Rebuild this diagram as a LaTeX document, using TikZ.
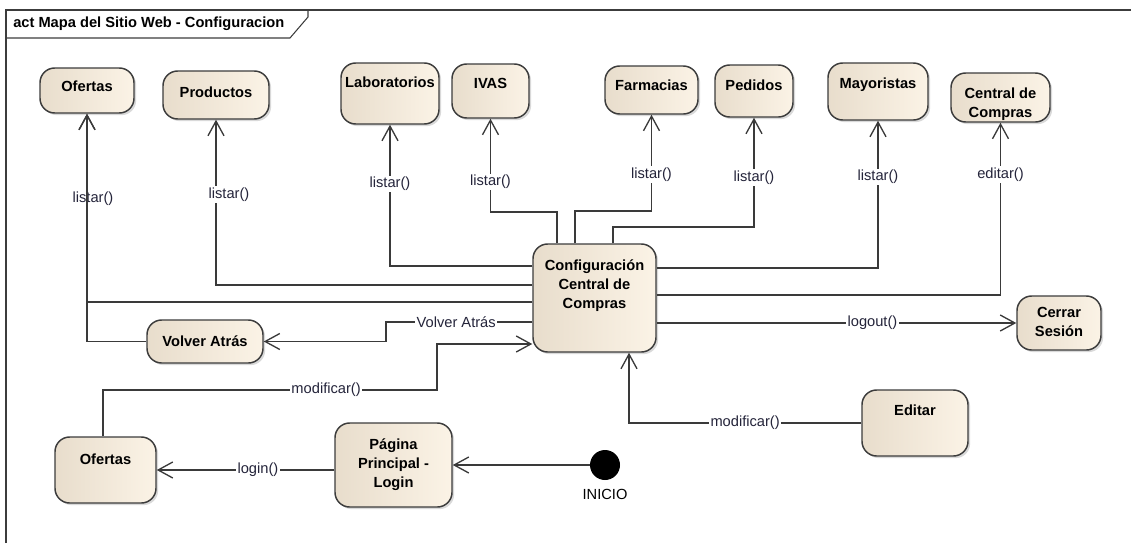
\documentclass[tikz,border=0pt]{standalone}
\usepackage{fontspec}
\setmainfont{Liberation Sans}
\usetikzlibrary{arrows.meta,positioning,shadows}
\definecolor{mapaedge}{HTML}{3C3C3C}
\definecolor{mapafillL}{HTML}{E8DDCC}
\definecolor{mapafillR}{HTML}{FBF3E6}
\definecolor{mapaline}{HTML}{3A3A3A}
\definecolor{mapatext}{HTML}{24243A}
\tikzset{
  act/.style={rounded corners=11pt, draw=mapaedge, line width=1.1pt,
    left color=mapafillL, right color=mapafillR, inner sep=3pt,
    font=\fontsize{11}{14.25}\selectfont\bfseries,
    drop shadow={shadow xshift=1.6pt, shadow yshift=-1.6pt, opacity=0.3}},
  lift/.style={text height=8pt, text depth=#1},
  flow/.style={-{Straight Barb[length=11pt, width=12pt]}, line width=1pt, draw=mapaline},
  msg/.style={font=\fontsize{11}{13}\selectfont, text=mapatext, fill=white, inner sep=1pt},
  frame/.style={draw=mapaedge, line width=0.8pt},
}
\newcommand{\rows}[1]{\begin{tabular}{@{}c@{}}#1\end{tabular}}

\begin{document}
\begin{tikzpicture}[x=0.75pt, y=-0.75pt]
\useasboundingbox (0,0) rectangle (1131,543);
\draw[frame] (6,543) -- (6,10) -- (1131,10);
\draw[frame] (6,38) -- (290,38) -- (308,17) -- (308,10);
\node[anchor=west, inner sep=0pt, font=\fontsize{11}{13}\selectfont\bfseries] (titulo) at (13,24)
  {act Mapa del Sitio Web - Configuracion};
\node[act, lift=6.75pt, minimum width=70.5pt, minimum height=33.75pt] (ofertasA) at (87,90.5) {Ofertas};
\node[act, lift=4.5pt, minimum width=79.5pt, minimum height=36pt] (productos) at (216,95) {Productos};
\node[act, lift=17.25pt, minimum width=73.5pt, minimum height=45.75pt] (labs) at (390,93.5) {Laboratorios};
\node[act, lift=12pt, minimum width=57.75pt, minimum height=40.5pt] (ivas) at (490.5,91) {IVAS};
\node[act, lift=7.5pt, minimum width=69.75pt, minimum height=36pt] (farmacias) at (651.5,90) {Farmacias};
\node[act, lift=9pt, minimum width=58.5pt, minimum height=39pt] (pedidos) at (754,91) {Pedidos};
\node[act, lift=12.75pt, minimum width=75pt, minimum height=42.75pt] (mayoristas) at (878,91.5) {Mayoristas};
\node[act, text height=22.95pt, text depth=7pt, minimum width=74.25pt, minimum height=36.75pt] (central) at (1000.5,97.5)
  {\rows{Central de\\Compras}};
\node[act, text height=24pt, text depth=37.3pt, minimum width=92.25pt, minimum height=81pt] (cfg) at (594.5,298)
  {\rows{Configuración\\Central de\\Compras}};
\node[act, minimum width=63pt, minimum height=40.5pt] (cerrar) at (1059,323) {\rows{Cerrar\\Sesión}};
\node[act, lift=0pt, minimum width=87pt, minimum height=32.25pt] (volver) at (205,341.5) {Volver Atrás};
\node[act, lift=19.5pt, minimum width=79.5pt, minimum height=49.5pt] (editar) at (915,423) {Editar};
\node[act, lift=16.5pt, minimum width=75.75pt, minimum height=49.5pt] (ofertasB) at (105.5,470) {Ofertas};
\node[act, minimum width=87.75pt, minimum height=63pt] (pagina) at (393.5,465) {\rows{Página\\Principal -\\Login}};
\node[circle, fill=black, minimum size=22.5pt, inner sep=0pt] (inicio) at (605,465) {};
\node[font=\fontsize{11}{13}\selectfont, below=3pt of inicio] (inicioLbl) {INICIO};
\draw[flow] (cfg.west |- 0,302) -| node[msg, pos=0.775, xshift=4.5pt] {listar()} (ofertasA.south);
\draw[flow] (volver.west) -| (ofertasA.south);
\draw[flow] (cfg.west |- 0,285) -| node[msg, pos=0.774, xshift=9.75pt] {listar()} (productos.south);
\draw[flow] (cfg.west |- 0,266) -| node[msg, pos=0.79] {listar()} (labs.south);
\draw[flow] (557,0 |- cfg.north) -- (557,212) -| node[msg, pos=0.66] {listar()} (ivas.south);
\draw[flow] (575,0 |- cfg.north) -- (575,211) -| node[msg, pos=0.69] {listar()} (farmacias.south);
\draw[flow] (613,0 |- cfg.north) -- (613,227) -| node[msg, pos=0.727] {listar()} (pedidos.south);
\draw[flow] (cfg.east |- 0,268) -| node[msg, pos=0.81] {listar()} (mayoristas.south);
\draw[flow] (cfg.east |- 0,295) -| node[msg, pos=0.85] {editar()} (central.south);
\draw[flow] (cfg.west |- 0,322) -- node[msg, pos=0.52] {Volver Atrás} (386,322) |- (volver.east);
\draw[flow] (103,0 |- ofertasB.north) |- node[msg, pos=0.834] {modificar()} (437,390) |- (cfg.west |- 0,344);
\draw[flow] (editar.west) -| node[msg, pos=0.25] {modificar()} (629,0 |- cfg.south);
\draw[flow] (cfg.east |- cerrar.west) -- node[msg, pos=0.6] {logout()} (cerrar.west);
\draw[flow] (pagina.west |- ofertasB.east) -- node[msg, pos=0.43] {login()} (ofertasB.east);
\draw[flow] (inicio) -- (pagina);
\end{tikzpicture}
\end{document}
